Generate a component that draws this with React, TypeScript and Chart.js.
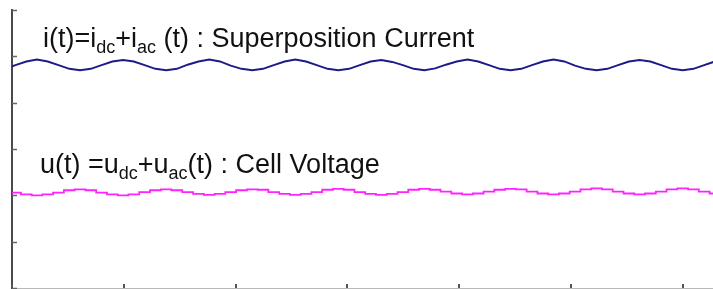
import React, { useEffect, useRef } from "react";
import { Chart, registerables } from "chart.js";

Chart.register(...registerables);

// time axis positions (sampled along the traces)
const timeValues = [
  -0.065, 0.031, 0.128, 0.224, 0.32, 0.416, 0.513, 0.609,
  0.705, 0.801, 0.898, 0.994, 1.09, 1.186, 1.283, 1.379,
  1.475, 1.571, 1.668, 1.764, 1.86, 1.956, 2.053, 2.149,
  2.245, 2.341, 2.438, 2.534, 2.63, 2.726, 2.823, 2.919,
  3.015, 3.111, 3.208, 3.304, 3.4, 3.496, 3.593, 3.689,
  3.785, 3.881, 3.978, 4.074, 4.17, 4.266, 4.363, 4.459,
  4.555, 4.651, 4.748, 4.844, 4.94, 5.036, 5.133, 5.229,
  5.325, 5.421, 5.518, 5.614, 5.71, 5.806, 5.903, 5.999,
  6.095, 6.191, 6.288, 6.384,
];

// i(t) superposition current trace
const currentValues = [
  4.73, 4.81, 4.89, 4.93, 4.89, 4.81, 4.73, 4.70,
  4.73, 4.81, 4.89, 4.92, 4.89, 4.81, 4.73, 4.70,
  4.73, 4.82, 4.89, 4.93, 4.89, 4.80, 4.73, 4.70,
  4.73, 4.81, 4.89, 4.93, 4.89, 4.81, 4.73, 4.70,
  4.73, 4.81, 4.89, 4.92, 4.88, 4.81, 4.73, 4.70,
  4.74, 4.82, 4.89, 4.93, 4.89, 4.81, 4.73, 4.70,
  4.73, 4.81, 4.89, 4.93, 4.89, 4.80, 4.73, 4.70,
  4.73, 4.81, 4.89, 4.92, 4.89, 4.81, 4.73, 4.70,
  4.73, 4.81, 4.89, 4.93,
];

// u(t) cell voltage trace
const voltageValues = [
  2.11, 2.06, 2.02, 2.0, 2.02, 2.06, 2.11, 2.13,
  2.11, 2.06, 2.02, 2.0, 2.02, 2.07, 2.11, 2.13,
  2.11, 2.07, 2.03, 2.01, 2.03, 2.07, 2.11, 2.13,
  2.12, 2.07, 2.03, 2.01, 2.03, 2.07, 2.12, 2.14,
  2.12, 2.07, 2.03, 2.01, 2.03, 2.07, 2.12, 2.14,
  2.12, 2.08, 2.04, 2.02, 2.04, 2.08, 2.12, 2.14,
  2.13, 2.08, 2.04, 2.02, 2.04, 2.08, 2.13, 2.15,
  2.13, 2.08, 2.04, 2.02, 2.04, 2.08, 2.13, 2.15,
  2.13, 2.08, 2.04, 2.02,
];

const xTickValues = [0, 1, 2, 3, 4, 5, 6];
const yTickValues = [0, 1, 2, 3, 4, 5, 6];

// rich labels: [text, isSubscript]
const currentLabel: [string, boolean][] = [
  ["i(t)=i", false],
  ["dc", true],
  ["+i", false],
  ["ac", true],
  [" (t) : Superposition Current", false],
];
const voltageLabel: [string, boolean][] = [
  ["u(t) =u", false],
  ["dc", true],
  ["+u", false],
  ["ac", true],
  ["(t) : Cell Voltage", false],
];

const FONT_FAMILY = '"Liberation Sans", Arial, sans-serif';

function drawRich(ctx: CanvasRenderingContext2D, x: number, y: number, parts: [string, boolean][]) {
  let cx = x;
  for (const [t, sub] of parts) {
    ctx.font = sub ? `18px ${FONT_FAMILY}` : `27px ${FONT_FAMILY}`;
    ctx.fillText(t, cx, sub ? y + 6 : y);
    cx += ctx.measureText(t).width;
  }
}

const overlayPlugin = {
  id: "overlay",
  afterDraw(chart: any) {
    const ctx: CanvasRenderingContext2D = chart.ctx;
    const area = chart.chartArea;
    const xs = chart.scales.x;
    const ys = chart.scales.y;
    ctx.save();
    // inward tick marks
    ctx.strokeStyle = "#666";
    ctx.lineWidth = 1.5;
    for (const v of yTickValues) {
      const py = Math.round(ys.getPixelForValue(v)) + 0.5;
      ctx.beginPath();
      ctx.moveTo(area.left, py);
      ctx.lineTo(area.left + 5, py);
      ctx.stroke();
    }
    ctx.strokeStyle = "#555";
    ctx.lineWidth = 2;
    for (const v of xTickValues) {
      const px = Math.round(xs.getPixelForValue(v));
      ctx.beginPath();
      ctx.moveTo(px, area.bottom);
      ctx.lineTo(px, area.bottom - 4);
      ctx.stroke();
    }
    // labels
    ctx.fillStyle = "#111";
    ctx.textBaseline = "alphabetic";
    ctx.textAlign = "left";
    drawRich(ctx, area.left + 31, area.top + 37, currentLabel);
    drawRich(ctx, area.left + 28, area.top + 163, voltageLabel);
    ctx.restore();
  },
};

export default function App() {
  const ref = useRef<HTMLCanvasElement | null>(null);
  useEffect(() => {
    if (!ref.current) return;
    const chart = new Chart(ref.current, {
      type: "line",
      data: {
        datasets: [
          {
            label: "i(t)",
            data: timeValues.map((x, i) => ({ x, y: currentValues[i] })),
            borderColor: "#1c1c88",
            borderWidth: 2,
            pointRadius: 0,
            tension: 0,
          },
          {
            label: "u(t)",
            data: timeValues.map((x, i) => ({ x, y: voltageValues[i] })),
            borderColor: "#ff22ff",
            borderWidth: 1.8,
            pointRadius: 0,
            stepped: "middle",
          },
        ],
      },
      options: {
        animation: false,
        responsive: false,
        maintainAspectRatio: false,
        layout: { padding: { left: 12, top: 10, right: 0, bottom: 1 } },
        plugins: { legend: { display: false }, tooltip: { enabled: false }, title: { display: false } },
        scales: {
          x: {
            type: "linear",
            min: 0,
            max: 6.27,
            ticks: { display: false, stepSize: 1 },
            grid: { display: false, drawTicks: false },
            border: { display: true, color: "#b8b8b8", width: 1 },
          },
          y: {
            type: "linear",
            min: 0,
            max: 6,
            ticks: { display: false, stepSize: 1 },
            grid: { display: false, drawTicks: false },
            border: { display: true, color: "#4a4a4a", width: 2 },
          },
        },
      },
      plugins: [overlayPlugin],
    });
    return () => chart.destroy();
  }, []);
  return (
    <div style={{ position: "absolute", left: 0, top: 0, width: 713, height: 289, background: "#fff" }}>
      <canvas ref={ref} width={713} height={289} style={{ width: 713, height: 289, display: "block" }} />
    </div>
  );
}
